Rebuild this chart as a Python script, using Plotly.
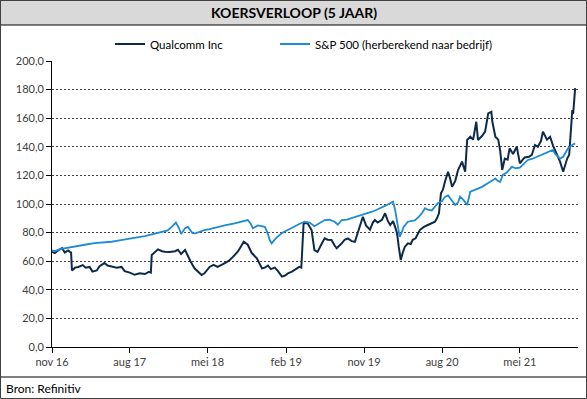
import plotly.graph_objects as go

# ---------------- data ----------------
qcom_dates = [
    "2016-11-01", "2016-11-11", "2016-11-22", "2016-12-06", "2016-12-16", "2016-12-27",
    "2017-01-03", "2017-01-07", "2017-01-10", "2017-01-21", "2017-02-01", "2017-02-17",
    "2017-02-27", "2017-03-13", "2017-03-23", "2017-04-07", "2017-04-17", "2017-05-04",
    "2017-05-15", "2017-05-29", "2017-06-16", "2017-07-03", "2017-07-14", "2017-08-01",
    "2017-08-18", "2017-09-05", "2017-09-23", "2017-10-07", "2017-10-14", "2017-10-17",
    "2017-10-28", "2017-11-08", "2017-11-22", "2017-12-02", "2017-12-19", "2018-01-07",
    "2018-01-17", "2018-01-28", "2018-02-11", "2018-02-21", "2018-03-02", "2018-03-16",
    "2018-03-26", "2018-04-10", "2018-04-20", "2018-05-08", "2018-05-22", "2018-06-05",
    "2018-06-19", "2018-06-30", "2018-07-13", "2018-07-24", "2018-08-04", "2018-08-15",
    "2018-08-25", "2018-09-05", "2018-09-19", "2018-10-03", "2018-10-21", "2018-11-01",
    "2018-11-08", "2018-11-18", "2018-11-29", "2018-12-09", "2018-12-23", "2019-01-03",
    "2019-01-17", "2019-01-28", "2019-02-07", "2019-02-21", "2019-03-05", "2019-03-19",
    "2019-03-26", "2019-04-03", "2019-04-17", "2019-05-01", "2019-05-11", "2019-05-22",
    "2019-06-05", "2019-06-16", "2019-06-26", "2019-07-10", "2019-07-21", "2019-07-28",
    "2019-08-15", "2019-08-25", "2019-09-05", "2019-09-19", "2019-09-30", "2019-10-10",
    "2019-10-21", "2019-10-28", "2019-11-08", "2019-11-22", "2019-12-02", "2019-12-09",
    "2019-12-19", "2020-01-03", "2020-01-14", "2020-01-24", "2020-02-01", "2020-02-11",
    "2020-02-18", "2020-02-25", "2020-03-02", "2020-03-09", "2020-03-16", "2020-03-23",
    "2020-04-03", "2020-04-13", "2020-04-20", "2020-04-30", "2020-05-15", "2020-05-29",
    "2020-06-12", "2020-06-23", "2020-07-07", "2020-07-14", "2020-07-21", "2020-07-28",
    "2020-08-04", "2020-08-11", "2020-08-22", "2020-08-29", "2020-09-05", "2020-09-16",
    "2020-09-26", "2020-10-10", "2020-10-21", "2020-10-28", "2020-11-08", "2020-11-18",
    "2020-11-29", "2020-12-05", "2020-12-19", "2020-12-30", "2021-01-10", "2021-01-21",
    "2021-01-24", "2021-02-04", "2021-02-14", "2021-02-21", "2021-02-28", "2021-03-09",
    "2021-03-19", "2021-03-26", "2021-04-07", "2021-04-20", "2021-05-01", "2021-05-11",
    "2021-05-18", "2021-06-02", "2021-06-12", "2021-06-23", "2021-07-03", "2021-07-14",
    "2021-07-21", "2021-08-04", "2021-08-15", "2021-08-25", "2021-09-09", "2021-09-19",
    "2021-09-30", "2021-10-07", "2021-10-14", "2021-10-21", "2021-10-28", "2021-11-01",
    "2021-11-04", "2021-11-08", "2021-11-11",
]
qcom_values = [
    66.6, 65.7, 67.5, 69.2, 66.0, 67.5,
    66.5, 66.0, 53.5, 55.5, 56.0, 57.3,
    55.5, 56.0, 52.7, 53.5, 56.5, 58.7,
    57.0, 56.5, 55.5, 56.0, 53.0, 52.0,
    50.5, 51.5, 51.0, 52.5, 52.0, 64.3,
    66.0, 68.3, 67.0, 66.6, 66.5, 67.0,
    68.0, 65.0, 67.8, 63.0, 60.0, 55.0,
    53.0, 50.3, 51.5, 56.0, 57.5, 56.0,
    57.5, 58.5, 60.0, 62.0, 64.5, 66.6,
    70.0, 73.6, 71.5, 65.7, 62.0, 58.0,
    55.0, 55.5, 57.0, 54.5, 55.5, 53.0,
    49.2, 50.0, 51.5, 52.7, 54.5, 56.0,
    55.5, 86.5, 86.5, 81.8, 67.8, 66.5,
    72.0, 76.0, 75.0, 74.8, 71.0, 69.0,
    72.5, 75.0, 76.0, 74.0, 73.5, 79.5,
    87.0, 91.1, 85.0, 82.0, 87.0, 88.8,
    87.0, 89.0, 93.5, 88.0, 85.3, 88.0,
    84.0, 79.5, 70.0, 60.8, 66.0, 70.0,
    72.5, 72.0, 75.0, 76.0, 81.8, 84.0,
    85.3, 86.5, 87.6, 90.0, 93.5, 107.5,
    110.0, 115.6, 122.6, 118.0, 112.0, 116.0,
    123.8, 129.6, 122.6, 144.8, 147.0, 145.0,
    157.5, 144.8, 147.5, 150.6, 163.4, 164.5,
    158.0, 147.0, 145.0, 137.0, 123.8, 131.8,
    131.0, 138.9, 135.0, 140.0, 128.4, 131.0,
    132.5, 133.0, 134.3, 141.3, 140.0, 144.0,
    150.6, 145.0, 147.0, 141.0, 134.3, 129.6,
    122.6, 127.0, 131.8, 134.3, 159.8, 165.7,
    163.0, 175.0, 181.0,
]

spx_dates = [
    "2016-11-01", "2016-11-11", "2016-11-29", "2016-12-16", "2017-01-03", "2017-02-01",
    "2017-02-24", "2017-03-30", "2017-05-04", "2017-05-29", "2017-06-26", "2017-07-24",
    "2017-08-22", "2017-09-23", "2017-10-21", "2017-11-22", "2017-12-12", "2017-12-26",
    "2018-01-10", "2018-01-21", "2018-01-28", "2018-02-11", "2018-02-21", "2018-03-09",
    "2018-03-19", "2018-04-03", "2018-04-20", "2018-05-08", "2018-06-05", "2018-06-30",
    "2018-08-04", "2018-08-29", "2018-09-19", "2018-09-30", "2018-10-07", "2018-10-24",
    "2018-11-08", "2018-11-18", "2018-11-29", "2018-12-05", "2018-12-12", "2018-12-26",
    "2019-01-17", "2019-02-07", "2019-03-02", "2019-03-19", "2019-04-06", "2019-04-24",
    "2019-05-11", "2019-05-29", "2019-06-16", "2019-07-03", "2019-07-21", "2019-08-01",
    "2019-08-15", "2019-09-02", "2019-09-19", "2019-10-07", "2019-10-24", "2019-11-11",
    "2019-11-29", "2019-12-16", "2020-01-03", "2020-01-17", "2020-02-01", "2020-02-11",
    "2020-02-18", "2020-02-25", "2020-03-02", "2020-03-05", "2020-03-12", "2020-03-19",
    "2020-04-03", "2020-04-17", "2020-04-27", "2020-05-11", "2020-05-22", "2020-06-02",
    "2020-06-12", "2020-06-26", "2020-07-07", "2020-07-17", "2020-08-01", "2020-08-11",
    "2020-08-22", "2020-08-29", "2020-09-09", "2020-09-16", "2020-09-26", "2020-10-03",
    "2020-10-14", "2020-10-28", "2020-11-08", "2020-11-22", "2020-12-05", "2020-12-19",
    "2021-01-07", "2021-01-21", "2021-02-04", "2021-02-14", "2021-02-21", "2021-03-02",
    "2021-03-16", "2021-04-03", "2021-04-17", "2021-05-01", "2021-05-15", "2021-05-29",
    "2021-06-12", "2021-06-30", "2021-07-14", "2021-07-28", "2021-08-11", "2021-08-25",
    "2021-09-02", "2021-09-09", "2021-09-19", "2021-09-30", "2021-10-10", "2021-10-17",
    "2021-11-01", "2021-11-11",
]
spx_values = [
    67.5, 67.0, 68.5, 69.0, 70.0, 70.5,
    71.5, 72.7, 73.0, 73.6, 74.5, 75.3,
    76.5, 77.6, 79.0, 80.2, 81.5, 84.0,
    87.0, 83.0, 79.0, 83.0, 84.0, 79.7,
    79.5, 80.5, 81.8, 82.5, 84.0, 85.0,
    86.5, 87.5, 88.8, 86.0, 83.0, 85.0,
    84.5, 84.0, 79.0, 74.8, 72.5, 76.0,
    79.7, 82.0, 84.0, 86.0, 87.6, 87.0,
    84.5, 86.5, 88.8, 89.0, 87.6, 85.5,
    88.8, 89.0, 90.0, 91.0, 92.3, 93.0,
    94.6, 96.0, 98.0, 99.0, 100.5, 101.6,
    96.0, 88.8, 82.0, 77.1, 80.0, 84.0,
    87.6, 88.0, 88.5, 91.0, 93.5, 97.0,
    96.0, 95.5, 98.0, 100.5, 102.0, 105.0,
    106.0, 104.0, 101.0, 99.3, 101.0, 105.1,
    103.0, 99.3, 108.6, 109.5, 110.8, 112.0,
    114.3, 115.5, 117.8, 116.0, 115.5, 120.3,
    122.0, 126.0, 125.0, 125.5, 128.0, 130.8,
    131.5, 133.0, 134.0, 135.4, 136.5, 137.8,
    135.0, 133.5, 131.8, 133.0, 136.0, 138.9,
    141.3, 142.4,
]

tick_dates = ["2016-11-01", "2017-08-01", "2018-05-01", "2019-02-01",
              "2019-11-01", "2020-08-01", "2021-05-01"]
tick_labels = ["nov 16", "aug 17", "mei 18", "feb 19", "nov 19", "aug 20", "mei 21"]
y_ticks = [0, 20, 40, 60, 80, 100, 120, 140, 160, 180, 200]

series_names = ["Qualcomm Inc", "S&P 500 (herberekend naar bedrijf)"]
title_text = "KOERSVERLOOP (5 JAAR)"
source_text = "Bron: Refinitiv"

# ---------------- layout constants ----------------
W, H = 587, 399
L, R, T, B = 52, 9, 61, 52
PW, PH = W - L - R, H - T - B
FONT = "Lato, Carlito, Calibri, sans-serif"
QCOM_COLOR = "#0E2A4B"
SPX_COLOR = "#1E8BD3"


def px(x):
    return (x - L) / PW


def py(y):
    return (H - B - y) / PH


fig = go.Figure()
fig.add_trace(go.Scatter(x=qcom_dates, y=qcom_values, mode="lines",
                         name=series_names[0], legend="legend",
                         line=dict(color=QCOM_COLOR, width=2)))
fig.add_trace(go.Scatter(x=spx_dates, y=spx_values, mode="lines",
                         name=series_names[1], legend="legend2",
                         line=dict(color=SPX_COLOR, width=1.8)))

shapes = [
    dict(type="rect", xref="paper", yref="paper",
         x0=px(0.5), x1=px(586.5), y0=py(25), y1=py(0.5),
         fillcolor="#D9D9D9", line=dict(color="#000000", width=1), layer="below"),
    dict(type="line", xref="paper", yref="paper",
         x0=px(0.5), x1=px(586.5), y0=py(377), y1=py(377),
         line=dict(color="#000000", width=1)),
    dict(type="rect", xref="paper", yref="paper",
         x0=px(0.5), x1=px(586.5), y0=py(398.5), y1=py(0.5),
         line=dict(color="#404040", width=1)),
]

annotations = [
    dict(text=title_text, xref="paper", yref="paper", x=px(293.5), y=py(13),
         xanchor="center", yanchor="middle", showarrow=False,
         font=dict(family=FONT, size=14, color="#000000", weight="bold")),
    dict(text=source_text, xref="paper", yref="paper", x=px(4), y=py(388),
         xanchor="left", yanchor="middle", showarrow=False,
         font=dict(family=FONT, size=12, color="#000000")),
]

legend_common = dict(orientation="h", yanchor="middle", xanchor="left",
                     font=dict(family=FONT, size=11.5, color="#000000"),
                     bgcolor="rgba(0,0,0,0)", borderwidth=0,
                     itemwidth=30)

fig.update_layout(
    width=W, height=H,
    margin=dict(l=L, r=R, t=T, b=B, autoexpand=False),
    paper_bgcolor="white", plot_bgcolor="white",
    separators=",.",
    font=dict(family=FONT, size=11, color="#404040"),
    showlegend=True,
    hovermode=False,
    legend=dict(x=px(110), y=py(44), **legend_common),
    legend2=dict(x=px(275), y=py(44), **legend_common),
    shapes=shapes,
    annotations=annotations,
    xaxis=dict(type="date", range=["2016-11-01", "2021-11-21"],
               tickvals=tick_dates, ticktext=tick_labels,
               ticks="outside", ticklen=5, tickcolor="#000000",
               showline=True, linecolor="#000000", linewidth=1,
               showgrid=False, zeroline=False,
               tickfont=dict(family=FONT, size=11, color="#404040")),
    yaxis=dict(range=[0, 200], tickvals=y_ticks, tickformat=".1f",
               ticks="outside", ticklen=5, tickcolor="#000000",
               showline=True, linecolor="#000000", linewidth=1,
               showgrid=True, gridcolor="#444444", gridwidth=1, griddash="2px,2px",
               zeroline=False,
               tickfont=dict(family=FONT, size=11, color="#404040")),
)

fig.write_html("out.html",
               config={"displayModeBar": False},
               post_script="document.body.style.margin='0';document.body.style.overflow='hidden';")
